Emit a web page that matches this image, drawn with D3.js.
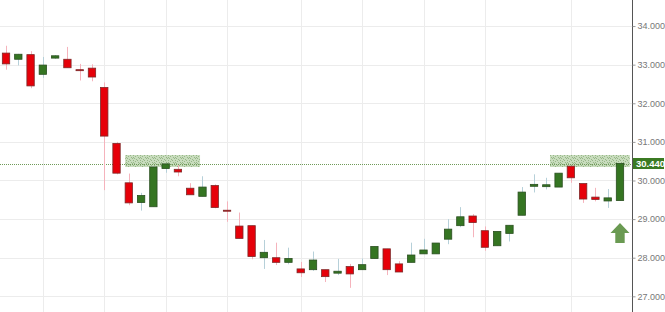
<!DOCTYPE html>
<html><head><meta charset="utf-8">
<script src="https://cdn.jsdelivr.net/npm/d3@7"></script>
<style>
html,body{margin:0;padding:0;background:#fff;}
svg{display:block;}
</style></head>
<body>
<script>
// ---- data ----
const opens  = [33.30,33.14,33.26,32.75,33.17,33.14,32.87,32.91,32.41,30.96,
                29.94,29.43,29.32,30.31,30.29,29.80,29.59,29.87,29.23,28.82,
                28.83,28.00,28.00,27.88,27.71,27.69,27.69,27.60,27.77,27.69,
                27.98,28.23,27.84,27.88,28.10,28.10,28.48,28.83,29.08,28.70,
                28.31,28.63,29.10,29.85,29.84,29.83,30.37,29.92,29.57,29.47,29.48];
const highs  = [33.49,33.28,33.35,33.20,33.25,33.46,33.02,33.01,32.54,31.00,
                30.18,29.68,30.37,30.43,30.40,29.93,30.11,29.90,29.46,29.17,
                28.83,28.46,28.39,28.26,27.89,28.16,27.69,27.97,27.84,27.98,
                28.29,28.23,27.91,28.39,28.49,28.38,29.00,29.31,29.13,28.81,
                28.68,28.84,29.83,30.16,30.07,30.19,30.37,29.92,29.81,29.78,30.44];
const lows   = [32.87,32.98,32.39,32.66,33.15,32.92,32.59,32.57,29.75,30.16,
                29.36,29.22,29.32,30.20,30.11,29.63,29.59,29.28,28.93,28.50,
                27.96,27.71,27.81,27.83,27.50,27.66,27.37,27.55,27.22,27.69,
                27.98,27.55,27.63,27.88,28.10,28.10,28.35,28.79,28.53,28.18,
                28.31,28.42,29.10,29.69,29.77,29.83,29.94,29.42,29.46,29.29,29.48];
const closes = [33.02,33.27,32.45,32.99,33.23,32.92,32.85,32.68,31.15,30.19,
                29.42,29.61,30.35,30.43,30.22,29.63,29.83,29.30,29.21,28.50,
                28.03,28.14,27.88,27.98,27.61,27.94,27.51,27.65,27.58,27.82,
                28.29,27.69,27.63,28.07,28.20,28.38,28.74,29.06,28.91,28.27,
                28.68,28.84,29.70,29.90,29.89,30.19,30.07,29.52,29.51,29.55,30.44];
const weekStarts = [3, 8, 13, 18, 24, 29, 34, 39, 46];   // sessions starting a new week
const tickValues = [27, 28, 29, 30, 31, 32, 33, 34];
const tickLabels = ["27.000","28.000","29.000","30.000","31.000","32.000","33.000","34.000"];
const lastPrice = 30.44;
const lastPriceLabel = "30.440";
const zones = [[9.7, 15.8], [44.3, 50.8]];               // highlighted price-zone spans (session index)

// ---- layout ----
const W = 665, H = 312, axisX = 632;
const sessions = d3.range(opens.length);
const candles = sessions.map(i => ({i, o: opens[i], h: highs[i], l: lows[i], c: closes[i]}));

const x = d3.scaleBand().domain(sessions).range([0, 626]).paddingInner(0.4).paddingOuter(0.19);
const y = d3.scaleLinear().domain([26.594, 34.675]).range([312, 0]);
const cx = i => x(i) + x.bandwidth() / 2;
const xs = d3.scaleLinear().domain([0, opens.length - 1]).range([cx(0), cx(opens.length - 1)]);

const svg = d3.select("body").append("svg").attr("width", W).attr("height", H);

// texture pattern for the zones
const defs = svg.append("defs");
const pat = defs.append("pattern").attr("id", "tex").attr("patternUnits", "userSpaceOnUse")
  .attr("width", 7).attr("height", 5);
pat.append("rect").attr("width", 7).attr("height", 5).attr("fill", "#b3cfa3");
[[0,0],[2,1],[4,0],[5,2],[1,3],[3,4],[6,3],[0,2]].forEach(([a,b]) =>
  pat.append("rect").attr("x", a).attr("y", b).attr("width", 1).attr("height", 1).attr("fill", "#6f9b5a"));

// grid
svg.append("g").selectAll("line").data(tickValues).join("line")
  .attr("x1", 0).attr("x2", axisX).attr("y1", d => Math.round(y(d)) + 0.5).attr("y2", d => Math.round(y(d)) + 0.5)
  .attr("stroke", "#ececec");
svg.append("g").selectAll("line").data(weekStarts).join("line")
  .attr("x1", d => Math.round(cx(d)) + 0.5).attr("x2", d => Math.round(cx(d)) + 0.5)
  .attr("y1", 0).attr("y2", H).attr("stroke", "#ececec");

// zones
svg.append("g").selectAll("rect").data(zones).join("rect")
  .attr("x", d => xs(d[0])).attr("width", d => xs(d[1]) - xs(d[0]))
  .attr("y", y(lastPrice) - 8.5).attr("height", 12)
  .attr("fill", "url(#tex)").attr("opacity", 0.72);

// last price dotted line
svg.append("line").attr("x1", 0).attr("x2", axisX)
  .attr("y1", Math.round(y(lastPrice)) + 0.5).attr("y2", Math.round(y(lastPrice)) + 0.5)
  .attr("stroke", "#6f9a58").attr("stroke-dasharray", "1,1");

// wicks
svg.append("g").selectAll("line").data(candles).join("line")
  .attr("x1", d => Math.round(cx(d.i)) + 0.5).attr("x2", d => Math.round(cx(d.i)) + 0.5)
  .attr("y1", d => y(d.h)).attr("y2", d => y(d.l))
  .attr("stroke", d => d.c >= d.o ? "#b6d0d9" : "#f5b3bc").attr("stroke-width", 1);

// bodies
svg.append("g").selectAll("rect").data(candles).join("rect")
  .attr("x", d => x(d.i)).attr("width", x.bandwidth())
  .attr("y", d => y(Math.max(d.o, d.c)))
  .attr("height", d => Math.max(1, Math.abs(y(d.o) - y(d.c))))
  .attr("fill", d => d.c >= d.o ? "#357522" : "#e60009")
  .attr("stroke", d => d.c >= d.o ? "#2a4f20" : "#7e2828").attr("stroke-width", 0.8);

// arrow
const ax = cx(opens.length - 1), ay = y(28.9);
svg.append("path")
  .attr("d", `M${ax},${ay} l9.5,10 h-4.8 v10 h-9.4 v-10 h-4.8 Z`)
  .attr("fill", "#6a9a52");

// right axis
const axis = d3.axisRight(y).tickValues(tickValues).tickFormat((d, k) => tickLabels[k]).tickSize(3).tickPadding(2);
const g = svg.append("g").attr("transform", `translate(${axisX + 0.5},0)`).call(axis);
g.select(".domain").attr("d", `M0,0V${H}`).attr("stroke", "#555");
g.selectAll(".tick line").attr("stroke", "#999");
g.selectAll(".tick text").attr("fill", "#777").attr("font-size", 9)
  .attr("font-family", "Liberation Sans, Arial, sans-serif");

// last price label
const ly = y(lastPrice);
svg.append("rect").attr("x", axisX + 1).attr("y", ly - 5.5).attr("width", 31).attr("height", 11).attr("fill", "#3b7a23");
svg.append("text").attr("x", axisX + 4).attr("y", ly + 3.5).text(lastPriceLabel)
  .attr("fill", "#fff").attr("font-size", 9.5).attr("font-weight", "bold")
  .attr("font-family", "Liberation Sans, Arial, sans-serif");
</script>
</body></html>
